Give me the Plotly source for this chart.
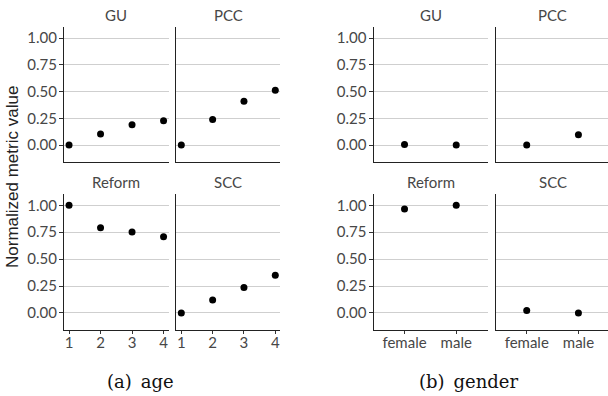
import plotly.graph_objects as go

# ---- data ----
facets = ["GU", "PCC", "Reform", "SCC"]
age_levels = [1, 2, 3, 4]
age_GU = [0.0, 0.103, 0.19, 0.227]
age_PCC = [0.0, 0.24, 0.411, 0.514]
age_Reform = [1.0, 0.792, 0.752, 0.708]
age_SCC = [0.0, 0.121, 0.236, 0.351]

gender_levels = ["female", "male"]
gender_GU = [0.006, 0.0]
gender_PCC = [0.0, 0.097]
gender_Reform = [0.966, 1.0]
gender_SCC = [0.022, 0.0]

y_ticks = [0.0, 0.25, 0.5, 0.75, 1.0]
y_ticktext = ["0.00", "0.25", "0.50", "0.75", "1.00"]
y_title = "Normalized metric value"
captions = ["(a)\u2002age", "(b)\u2002gender"]

# ---- layout geometry (pixels) ----
W, H = 608, 396
def px(x):
    return x / W
def py(y):
    return 1 - y / H

col_px = [(64, 168.6), (176.3, 280.3), (373.5, 487.5), (495.7, 608)]
row_px = [(27, 162), (194, 330)]
y_range = [-0.158, 1.105]

fig = go.Figure()

FONT = "Lato"
TXT = "#474747"
tick_font = dict(family=FONT, size=15, color=TXT)

age_data = [age_GU, age_PCC, age_Reform, age_SCC]
gen_data = [gender_GU, gender_PCC, gender_Reform, gender_SCC]

idx = 0
layout_updates = {}
annotations = []
for chart in range(2):
    for r in range(2):
        for c in range(2):
            idx += 1
            fi = r * 2 + c
            colp = col_px[chart * 2 + c]
            rowp = row_px[r]
            xa = "x" if idx == 1 else f"x{idx}"
            ya = "y" if idx == 1 else f"y{idx}"
            if chart == 0:
                xs = age_levels
                ys = age_data[fi]
            else:
                xs = gender_levels
                ys = gen_data[fi]
            fig.add_trace(go.Scatter(x=xs, y=ys, mode="markers",
                                     marker=dict(color="black", size=7),
                                     xaxis=xa, yaxis=ya, showlegend=False,
                                     cliponaxis=False))
            xkey = "xaxis" if idx == 1 else f"xaxis{idx}"
            ykey = "yaxis" if idx == 1 else f"yaxis{idx}"
            bottom = (r == 1)
            left = (c == 0)
            if chart == 0:
                xr = [0.84, 4.16]
                xaxis = dict(type="linear", tickvals=age_levels,
                             ticktext=[str(v) for v in age_levels])
            else:
                width_px = colp[1] - colp[0]
                xr = [-0.6, -0.6 + width_px / 51.7]
                xaxis = dict(type="category", categoryorder="array",
                             categoryarray=gender_levels)
            xaxis.update(domain=[px(colp[0]), px(colp[1])], range=xr,
                         anchor=ya, showgrid=False, zeroline=False,
                         showline=True, linecolor="#222222", linewidth=1,
                         ticks="outside" if bottom else "", ticklen=3,
                         tickcolor="#333333", tickwidth=1,
                         ticklabelstandoff=-4,
                         showticklabels=bottom, tickfont=tick_font,
                         fixedrange=True)
            yaxis = dict(domain=[py(rowp[1]), py(rowp[0])], range=y_range,
                         anchor=xa, showgrid=True, gridcolor="#cfcfcf",
                         gridwidth=1, zeroline=False, showline=True,
                         linecolor="#222222", linewidth=1,
                         tickvals=y_ticks, ticktext=y_ticktext,
                         ticks="outside" if left else "", ticklen=4,
                         tickcolor="#333333", tickwidth=1,
                         ticklabelstandoff=-1,
                         showticklabels=left, tickfont=tick_font,
                         fixedrange=True)
            layout_updates[xkey] = xaxis
            layout_updates[ykey] = yaxis
            right_edge = colp[0] + 114 if (chart == 1 and c == 1) else colp[1]
            annotations.append(dict(
                text=facets[fi], x=px((colp[0] + right_edge) / 2),
                y=py(rowp[0] - 12), xref="paper", yref="paper",
                showarrow=False, xanchor="center", yanchor="middle",
                font=dict(family=FONT, size=15, color=TXT)))

annotations.append(dict(text=y_title, x=px(12), y=py(177), xref="paper", yref="paper",
                        showarrow=False, textangle=-90, xanchor="center", yanchor="middle",
                        font=dict(family="Liberation Sans", size=17, color="#222222")))
annotations.append(dict(text=captions[0], x=px(140), y=py(381), xref="paper", yref="paper",
                        showarrow=False, xanchor="center", yanchor="middle",
                        font=dict(family="DejaVu Serif", size=18, color="#111111")))
annotations.append(dict(text=captions[1], x=px(469), y=py(381), xref="paper", yref="paper",
                        showarrow=False, xanchor="center", yanchor="middle",
                        font=dict(family="DejaVu Serif", size=18, color="#111111")))

fig.update_layout(width=W, height=H, margin=dict(l=0, r=0, t=0, b=0),
                  paper_bgcolor="white", plot_bgcolor="white",
                  annotations=annotations, **layout_updates)

fig.write_html("out.html")
